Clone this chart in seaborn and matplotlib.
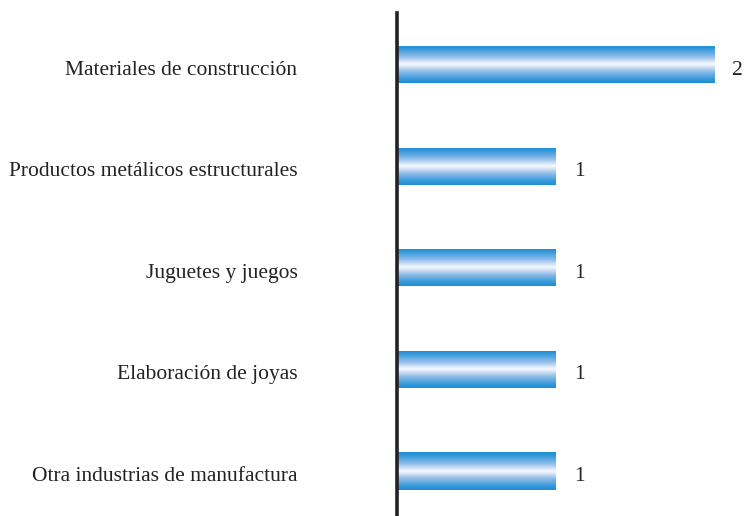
import numpy as np
import matplotlib
matplotlib.use("Agg")
import matplotlib.pyplot as plt
from matplotlib.colors import LinearSegmentedColormap
from matplotlib.transforms import ScaledTranslation
import seaborn as sns
import pandas as pd

categories = ["Materiales de construcción", "Productos metálicos estructurales",
              "Juguetes y juegos", "Elaboración de joyas", "Otra industrias de manufactura"]
values = [2, 1, 1, 1, 1]

sns.set_theme(style="white")
plt.rcParams['font.family'] = ['Liberation Serif', 'DejaVu Serif']

W, H = 747, 516
fig = plt.figure(figsize=(W / 100, H / 100), dpi=100)
ax_left = 397.5
ax = fig.add_axes([ax_left / W, 0, 1 - ax_left / W, (516 - 13) / H])

df = pd.DataFrame({"cat": categories, "val": values})
sns.barplot(data=df, y="cat", x="val", orient="h", ax=ax, width=0.365,
            color="#1a8fd3", saturation=1)

x_max = 2 * (W - ax_left) / (715 - ax_left)
ax.set_xlim(0, x_max)
ax.set_ylim(4.443, -0.507)

cmap = LinearSegmentedColormap.from_list("cyl", [
    (0.0, "#1a8fd3"), (0.1, "#3598d9"), (0.3, "#8dbbe8"),
    (0.42, "#cfe0f6"), (0.5, "#f8faff"), (0.58, "#cfe0f6"),
    (0.7, "#8dbbe8"), (0.9, "#3598d9"), (1.0, "#1a8fd3")])
grad = np.linspace(0, 1, 256).reshape(-1, 1)
for p in ax.patches:
    x0, y0 = p.get_x(), p.get_y()
    w, h = p.get_width(), p.get_height()
    im = ax.imshow(grad, cmap=cmap, aspect="auto",
                   extent=(x0, x0 + w, y0 + h, y0), zorder=p.get_zorder() + 0.1,
                   interpolation="bilinear")
    im.set_clip_path(p)
    ax.text(x0 + w + 0.11, y0 + h / 2 + 0.055, f"{int(w)}", va="center", ha="left",
            fontsize=15.5, color="#222222")

ax.set_xlim(0, x_max)
ax.set_ylim(4.443, -0.507)
for s in ["top", "right", "bottom"]:
    ax.spines[s].set_visible(False)
ax.spines["left"].set_linewidth(2.6)
ax.spines["left"].set_color("#222222")
ax.set_xticks([])
ax.set_xlabel("")
ax.set_ylabel("")
ax.tick_params(axis="y", length=0, pad=72, labelsize=15.5, labelcolor="#222222")
off = ScaledTranslation(0, -3 / 100, fig.dpi_scale_trans)
for t in ax.get_yticklabels():
    t.set_transform(t.get_transform() + off)

fig.savefig("out.png", dpi=100)
